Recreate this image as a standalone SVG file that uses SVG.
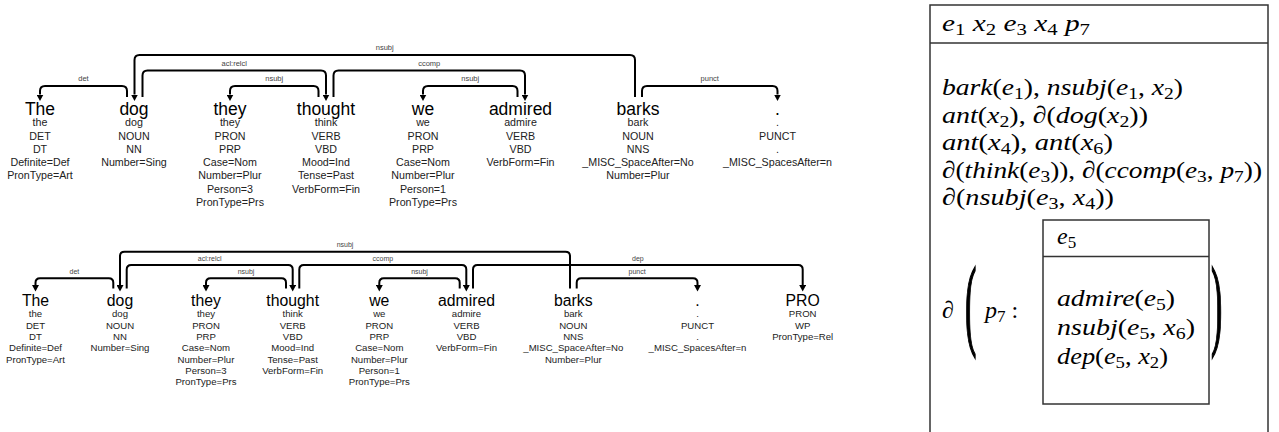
<svg xmlns="http://www.w3.org/2000/svg" width="1279" height="432" viewBox="0 0 1279 432">
<style>
.w1{font-family:"Liberation Sans",Arial,sans-serif;font-size:17.5px;fill:#000;text-anchor:middle}
.a1{font-family:"Liberation Sans",Arial,sans-serif;font-size:10.7px;fill:#222;text-anchor:middle}
.w2{font-family:"Liberation Sans",Arial,sans-serif;font-size:15.8px;fill:#000;text-anchor:middle}
.a2{font-family:"Liberation Sans",Arial,sans-serif;font-size:9.6px;fill:#222;text-anchor:middle}
.l1{font-family:"Liberation Sans",Arial,sans-serif;font-size:7.5px;fill:#444;text-anchor:middle}
.l2{font-family:"Liberation Sans",Arial,sans-serif;font-size:7px;fill:#444;text-anchor:middle}
.arc{fill:none;stroke:#000;stroke-width:2;marker-end:url(#ah)}
.box{fill:none;stroke:#333;stroke-width:1.5}
.m{font-family:"Liberation Serif","Times New Roman",serif;font-style:italic;font-size:24px;fill:#000}
.u{font-style:normal}
.s{font-style:normal;font-size:17px}
.bp{font-family:"Liberation Serif","Times New Roman",serif;font-size:34px;fill:#000;stroke:#000;stroke-width:0.7}
</style>
<defs>
<marker id="ah" markerUnits="userSpaceOnUse" markerWidth="7" markerHeight="7" viewBox="0 0 7 7" refX="0" refY="3.5" orient="auto">
<path d="M0,0 L6.5,3.5 L0,7 z" fill="#000"/>
</marker>
</defs>

<!-- Tree 1 -->
<g id="tree1">
<g id="t1-the"><text class="w1" x="40" y="115">The</text><text class="a1" y="126.2"><tspan x="40">the</tspan><tspan x="40" dy="13.3">DET</tspan><tspan x="40" dy="13.3">DT</tspan><tspan x="40" dy="13.3">Definite=Def</tspan><tspan x="40" dy="13.3">PronType=Art</tspan></text></g>
<g id="t1-dog"><text class="w1" x="134" y="115">dog</text><text class="a1" y="126.2"><tspan x="134">dog</tspan><tspan x="134" dy="13.3">NOUN</tspan><tspan x="134" dy="13.3">NN</tspan><tspan x="134" dy="13.3">Number=Sing</tspan></text></g>
<g id="t1-they"><text class="w1" x="230" y="115">they</text><text class="a1" y="126.2"><tspan x="230">they</tspan><tspan x="230" dy="13.3">PRON</tspan><tspan x="230" dy="13.3">PRP</tspan><tspan x="230" dy="13.3">Case=Nom</tspan><tspan x="230" dy="13.3">Number=Plur</tspan><tspan x="230" dy="13.3">Person=3</tspan><tspan x="230" dy="13.3">PronType=Prs</tspan></text></g>
<g id="t1-thought"><text class="w1" x="326" y="115">thought</text><text class="a1" y="126.2"><tspan x="326">think</tspan><tspan x="326" dy="13.3">VERB</tspan><tspan x="326" dy="13.3">VBD</tspan><tspan x="326" dy="13.3">Mood=Ind</tspan><tspan x="326" dy="13.3">Tense=Past</tspan><tspan x="326" dy="13.3">VerbForm=Fin</tspan></text></g>
<g id="t1-we"><text class="w1" x="423" y="115">we</text><text class="a1" y="126.2"><tspan x="423">we</tspan><tspan x="423" dy="13.3">PRON</tspan><tspan x="423" dy="13.3">PRP</tspan><tspan x="423" dy="13.3">Case=Nom</tspan><tspan x="423" dy="13.3">Number=Plur</tspan><tspan x="423" dy="13.3">Person=1</tspan><tspan x="423" dy="13.3">PronType=Prs</tspan></text></g>
<g id="t1-admired"><text class="w1" x="520.5" y="115">admired</text><text class="a1" y="126.2"><tspan x="520.5">admire</tspan><tspan x="520.5" dy="13.3">VERB</tspan><tspan x="520.5" dy="13.3">VBD</tspan><tspan x="520.5" dy="13.3">VerbForm=Fin</tspan></text></g>
<g id="t1-barks"><text class="w1" x="638" y="115">barks</text><text class="a1" y="126.2"><tspan x="638">bark</tspan><tspan x="638" dy="13.3">NOUN</tspan><tspan x="638" dy="13.3">NNS</tspan><tspan x="638" dy="13.3">_MISC_SpaceAfter=No</tspan><tspan x="638" dy="13.3">Number=Plur</tspan></text></g>
<g id="t1-punct"><text class="w1" x="777.5" y="115">.</text><text class="a1" y="126.2"><tspan x="777.5">.</tspan><tspan x="777.5" dy="13.3">PUNCT</tspan><tspan x="777.5" dy="13.3">.</tspan><tspan x="777.5" dy="13.3">_MISC_SpacesAfter=n</tspan></text></g>
<g id="t1-arcs">
<path class="arc" d="M127,97 V91 Q127,86 122,86 H45 Q40,86 40,91 V94.5"/>
<path class="arc" d="M635,97 V60 Q635,55 630,55 H139.5 Q134.5,55 134.5,60 V94.5"/>
<path class="arc" d="M142.5,97 V75.5 Q142.5,70.5 147.5,70.5 H321 Q326,70.5 326,75.5 V94.5"/>
<path class="arc" d="M318.5,97 V91 Q318.5,86 313.5,86 H235 Q230,86 230,91 V94.5"/>
<path class="arc" d="M333.5,97 V75.5 Q333.5,70.5 338.5,70.5 H520 Q525,70.5 525,75.5 V94.5"/>
<path class="arc" d="M517.5,97 V91 Q517.5,86 512.5,86 H428 Q423,86 423,91 V94.5"/>
<path class="arc" d="M642,97 V91 Q642,86 647,86 H772.5 Q777.5,86 777.5,91 V94.5"/>
<text class="l1" x="83.5" y="81">det</text>
<text class="l1" x="384.75" y="50">nsubj</text>
<text class="l1" x="234.25" y="65.5">acl:relcl</text>
<text class="l1" x="274.25" y="81">nsubj</text>
<text class="l1" x="429.25" y="65.5">ccomp</text>
<text class="l1" x="470.25" y="81">nsubj</text>
<text class="l1" x="709.75" y="81">punct</text>
</g>
</g>

<!-- Tree 2 -->
<g id="tree2">
<g id="t2-the"><text class="w2" x="35.5" y="305.7">The</text><text class="a2" y="317.3"><tspan x="35.5">the</tspan><tspan x="35.5" dy="11.3">DET</tspan><tspan x="35.5" dy="11.3">DT</tspan><tspan x="35.5" dy="11.3">Definite=Def</tspan><tspan x="35.5" dy="11.3">PronType=Art</tspan></text></g>
<g id="t2-dog"><text class="w2" x="120" y="305.7">dog</text><text class="a2" y="317.3"><tspan x="120">dog</tspan><tspan x="120" dy="11.3">NOUN</tspan><tspan x="120" dy="11.3">NN</tspan><tspan x="120" dy="11.3">Number=Sing</tspan></text></g>
<g id="t2-they"><text class="w2" x="206" y="305.7">they</text><text class="a2" y="317.3"><tspan x="206">they</tspan><tspan x="206" dy="11.3">PRON</tspan><tspan x="206" dy="11.3">PRP</tspan><tspan x="206" dy="11.3">Case=Nom</tspan><tspan x="206" dy="11.3">Number=Plur</tspan><tspan x="206" dy="11.3">Person=3</tspan><tspan x="206" dy="11.3">PronType=Prs</tspan></text></g>
<g id="t2-thought"><text class="w2" x="292.7" y="305.7">thought</text><text class="a2" y="317.3"><tspan x="292.7">think</tspan><tspan x="292.7" dy="11.3">VERB</tspan><tspan x="292.7" dy="11.3">VBD</tspan><tspan x="292.7" dy="11.3">Mood=Ind</tspan><tspan x="292.7" dy="11.3">Tense=Past</tspan><tspan x="292.7" dy="11.3">VerbForm=Fin</tspan></text></g>
<g id="t2-we"><text class="w2" x="379.3" y="305.7">we</text><text class="a2" y="317.3"><tspan x="379.3">we</tspan><tspan x="379.3" dy="11.3">PRON</tspan><tspan x="379.3" dy="11.3">PRP</tspan><tspan x="379.3" dy="11.3">Case=Nom</tspan><tspan x="379.3" dy="11.3">Number=Plur</tspan><tspan x="379.3" dy="11.3">Person=1</tspan><tspan x="379.3" dy="11.3">PronType=Prs</tspan></text></g>
<g id="t2-admired"><text class="w2" x="466.5" y="305.7">admired</text><text class="a2" y="317.3"><tspan x="466.5">admire</tspan><tspan x="466.5" dy="11.3">VERB</tspan><tspan x="466.5" dy="11.3">VBD</tspan><tspan x="466.5" dy="11.3">VerbForm=Fin</tspan></text></g>
<g id="t2-barks"><text class="w2" x="573.3" y="305.7">barks</text><text class="a2" y="317.3"><tspan x="573.3">bark</tspan><tspan x="573.3" dy="11.3">NOUN</tspan><tspan x="573.3" dy="11.3">NNS</tspan><tspan x="573.3" dy="11.3">_MISC_SpaceAfter=No</tspan><tspan x="573.3" dy="11.3">Number=Plur</tspan></text></g>
<g id="t2-punct"><text class="w2" x="697.5" y="305.7">.</text><text class="a2" y="317.3"><tspan x="697.5">.</tspan><tspan x="697.5" dy="11.3">PUNCT</tspan><tspan x="697.5" dy="11.3">.</tspan><tspan x="697.5" dy="11.3">_MISC_SpacesAfter=n</tspan></text></g>
<g id="t2-pro"><text class="w2" x="802.7" y="305.7">PRO</text><text class="a2" y="317.3"><tspan x="802.7">PRON</tspan><tspan x="802.7" dy="11.3">WP</tspan><tspan x="802.7" dy="11.3">PronType=Rel</tspan></text></g>
<g id="t2-arcs">
<path class="arc" d="M113.3,288.5 V282.8 Q113.3,278.3 108.8,278.3 H40 Q35.5,278.3 35.5,282.8 V285"/>
<path class="arc" d="M570,288.5 V256.2 Q570,251.7 565.5,251.7 H124.5 Q120,251.7 120,256.2 V285"/>
<path class="arc" d="M126.7,288.5 V269.5 Q126.7,265 131.2,265 H288.2 Q292.7,265 292.7,269.5 V285"/>
<path class="arc" d="M286,288.5 V282.8 Q286,278.3 281.5,278.3 H210.5 Q206,278.3 206,282.8 V285"/>
<path class="arc" d="M299.3,288.5 V269.5 Q299.3,265 303.8,265 H461.8 Q466.3,265 466.3,269.5 V285"/>
<path class="arc" d="M459.7,288.5 V282.8 Q459.7,278.3 455.2,278.3 H383.8 Q379.3,278.3 379.3,282.8 V285"/>
<path class="arc" d="M473,288.5 V269.5 Q473,265 477.5,265 H798.2 Q802.7,265 802.7,269.5 V285"/>
<path class="arc" d="M576.7,288.5 V282.8 Q576.7,278.3 581.2,278.3 H693 Q697.5,278.3 697.5,282.8 V285"/>
<text class="l2" x="74.4" y="273.8">det</text>
<text class="l2" x="345" y="247.2">nsubj</text>
<text class="l2" x="209.7" y="260.5">acl:relcl</text>
<text class="l2" x="246" y="273.8">nsubj</text>
<text class="l2" x="382.8" y="260.5">ccomp</text>
<text class="l2" x="419.5" y="273.8">nsubj</text>
<text class="l2" x="637.9" y="260.5">dep</text>
<text class="l2" x="637.1" y="273.8">punct</text>
</g>
</g>

<!-- DRS -->
<g id="drs">
<rect class="box" x="930" y="5" width="338" height="460"/>
<line class="box" x1="930" y1="43" x2="1268" y2="43"/>
<text class="m" x="942" y="31" textLength="148" lengthAdjust="spacingAndGlyphs">e<tspan class="s" dy="4">1</tspan><tspan dy="-4"> x</tspan><tspan class="s" dy="4">2</tspan><tspan dy="-4"> e</tspan><tspan class="s" dy="4">3</tspan><tspan dy="-4"> x</tspan><tspan class="s" dy="4">4</tspan><tspan dy="-4"> p</tspan><tspan class="s" dy="4">7</tspan></text>
<text class="m" x="942" y="95" textLength="241" lengthAdjust="spacingAndGlyphs">bark<tspan class="u">(</tspan>e<tspan class="s" dy="4">1</tspan><tspan class="u" dy="-4">),</tspan> nsubj<tspan class="u">(</tspan>e<tspan class="s" dy="4">1</tspan><tspan class="u" dy="-4">,</tspan> x<tspan class="s" dy="4">2</tspan><tspan class="u" dy="-4">)</tspan></text>
<text class="m" x="942" y="122.5" textLength="206" lengthAdjust="spacingAndGlyphs">ant<tspan class="u">(</tspan>x<tspan class="s" dy="4">2</tspan><tspan class="u" dy="-4">),</tspan> ∂<tspan class="u">(</tspan>dog<tspan class="u">(</tspan>x<tspan class="s" dy="4">2</tspan><tspan class="u" dy="-4">))</tspan></text>
<text class="m" x="942" y="150" textLength="171" lengthAdjust="spacingAndGlyphs">ant<tspan class="u">(</tspan>x<tspan class="s" dy="4">4</tspan><tspan class="u" dy="-4">),</tspan> ant<tspan class="u">(</tspan>x<tspan class="s" dy="4">6</tspan><tspan class="u" dy="-4">)</tspan></text>
<text class="m" x="942" y="177.5" textLength="320" lengthAdjust="spacingAndGlyphs">∂<tspan class="u">(</tspan>think<tspan class="u">(</tspan>e<tspan class="s" dy="4">3</tspan><tspan class="u" dy="-4">)),</tspan> ∂<tspan class="u">(</tspan>ccomp<tspan class="u">(</tspan>e<tspan class="s" dy="4">3</tspan><tspan class="u" dy="-4">,</tspan> p<tspan class="s" dy="4">7</tspan><tspan class="u" dy="-4">))</tspan></text>
<text class="m" x="942" y="205" textLength="172" lengthAdjust="spacingAndGlyphs">∂<tspan class="u">(</tspan>nsubj<tspan class="u">(</tspan>e<tspan class="s" dy="4">3</tspan><tspan class="u" dy="-4">,</tspan> x<tspan class="s" dy="4">4</tspan><tspan class="u" dy="-4">))</tspan></text>
<text class="m" x="942" y="318">∂</text>
<text class="bp" transform="translate(965,337) scale(1,3)">(</text>
<text class="m" x="985" y="318">p<tspan class="s" dy="4">7</tspan><tspan class="u" dy="-4"> :</tspan></text>
<g id="drs-inner">
<rect class="box" x="1043" y="220" width="166" height="184"/>
<line class="box" x1="1043" y1="256.5" x2="1209" y2="256.5"/>
<text class="m" x="1057" y="244">e<tspan class="s" dy="4">5</tspan></text>
<text class="m" x="1057" y="306" textLength="118" lengthAdjust="spacingAndGlyphs">admire<tspan class="u">(</tspan>e<tspan class="s" dy="4">5</tspan><tspan class="u" dy="-4">)</tspan></text>
<text class="m" x="1057" y="335" textLength="138" lengthAdjust="spacingAndGlyphs">nsubj<tspan class="u">(</tspan>e<tspan class="s" dy="4">5</tspan><tspan class="u" dy="-4">,</tspan> x<tspan class="s" dy="4">6</tspan><tspan class="u" dy="-4">)</tspan></text>
<text class="m" x="1057" y="364" textLength="111" lengthAdjust="spacingAndGlyphs">dep<tspan class="u">(</tspan>e<tspan class="s" dy="4">5</tspan><tspan class="u" dy="-4">,</tspan> x<tspan class="s" dy="4">2</tspan><tspan class="u" dy="-4">)</tspan></text>
</g>
<text class="bp" transform="translate(1211,337) scale(1,3)">)</text>
</g>
</svg>
